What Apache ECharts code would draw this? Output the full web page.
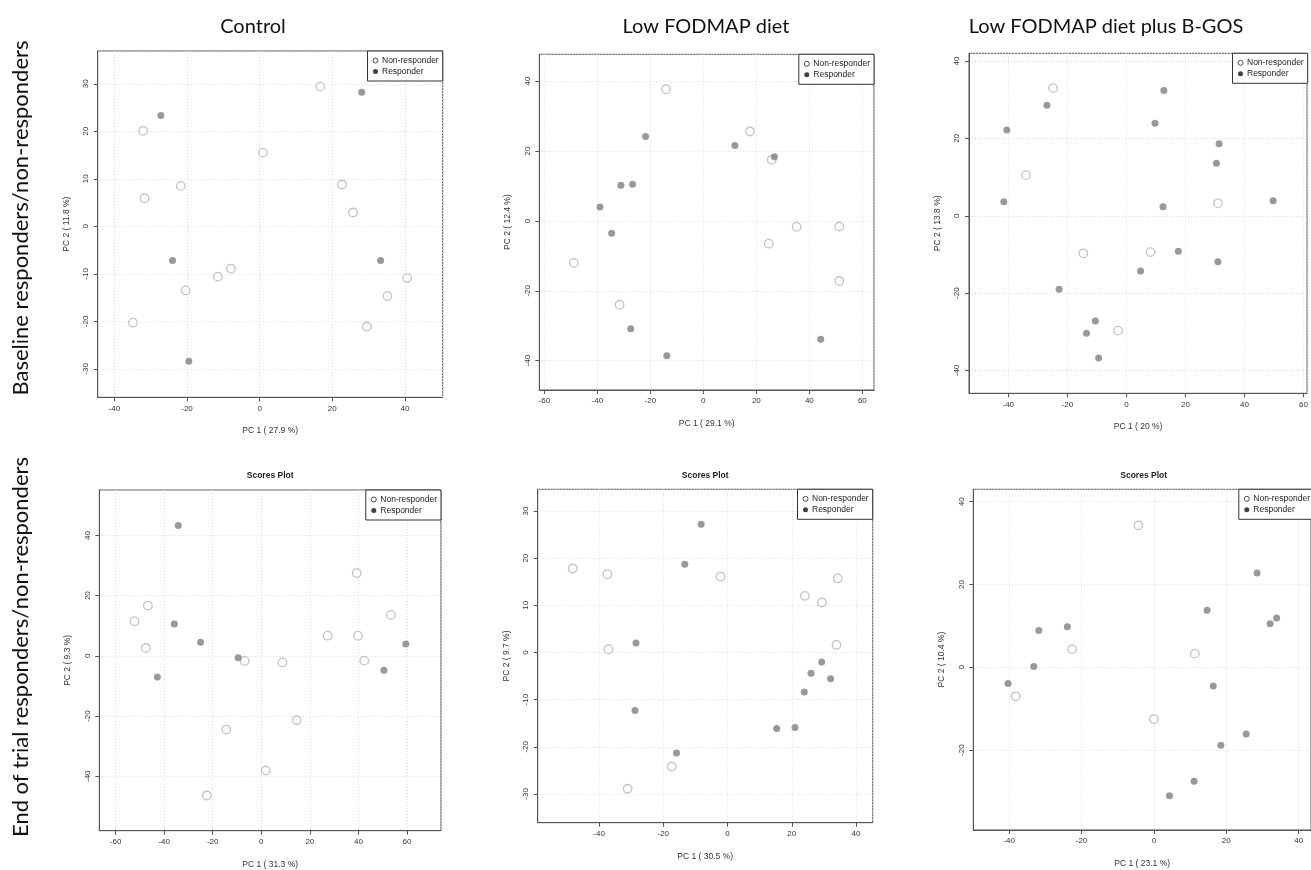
<!DOCTYPE html>
<html>
<head>
<meta charset="utf-8">
<script src="https://cdn.jsdelivr.net/npm/echarts@6/dist/echarts.min.js"></script>
<style>
html,body{margin:0;padding:0;background:#fff;}
#chart{width:1311px;height:870px;}
</style>
</head>
<body>
<div id="chart"></div>
<script>
// ---------------- DATA ----------------
const columnTitles = ['Control', 'Low FODMAP diet', 'Low FODMAP diet plus B-GOS'];
const rowTitles = ['Baseline responders/non-responders', 'End of trial responders/non-responders'];
const seriesNames = ['Non-responder', 'Responder'];
const subTitle = 'Scores Plot';

const xAxisNames = ['PC 1 ( 27.9 %)', 'PC 1 ( 29.1 %)', 'PC 1 ( 20 %)', 'PC 1 ( 31.3 %)', 'PC 1 ( 30.5 %)', 'PC 1 ( 23.1 %)'];
const yAxisNames = ['PC 2 ( 11.8 %)', 'PC 2 ( 12.4 %)', 'PC 2 ( 13.8 %)', 'PC 2 ( 9.3 %)', 'PC 2 ( 9.7 %)', 'PC 2 ( 10.4 %)'];

// axis extents [min, max] and tick steps
const xExtents = [[-44.6, 50.4], [-61.9, 64.4], [-53.3, 61.2], [-66.7, 74.0], [-59.1, 45.2], [-49.9, 43.4]];
const yExtents = [[-36.0, 36.9], [-48.4, 47.7], [-45.9, 42.0], [-58.1, 55.1], [-36.1, 34.6], [-39.3, 43.0]];
const xSteps = [20, 20, 20, 20, 20, 20];
const ySteps = [10, 20, 20, 20, 10, 20];

// Panel 1: Control, baseline
const p1NonResponder = [[16.7,29.4],[-32.1,20.1],[0.9,15.5],[-21.7,8.5],[-31.7,5.9],[22.7,8.8],[25.7,2.9],[-7.9,-8.9],[-11.5,-10.6],[-20.4,-13.5],[-34.9,-20.3],[40.6,-10.9],[35.2,-14.7],[29.5,-21.1]];
const p1Responder = [[-27.2,23.3],[28.1,28.2],[-24.0,-7.2],[33.3,-7.2],[-19.5,-28.4]];
// Panel 2: Low FODMAP, baseline
const p2NonResponder = [[-14.1,37.7],[17.6,25.6],[25.8,17.5],[35.2,-1.7],[51.3,-1.6],[24.7,-6.5],[51.3,-17.2],[-48.9,-12.0],[-31.6,-24.0]];
const p2Responder = [[-21.8,24.2],[11.9,21.6],[26.8,18.4],[-31.1,10.2],[-26.7,10.5],[-39.0,4.0],[-34.6,-3.5],[-27.4,-30.9],[-13.8,-38.6],[44.3,-33.9]];
// Panel 3: Low FODMAP + B-GOS, baseline
const p3NonResponder = [[-24.8,33.0],[-34.0,10.5],[31.0,3.2],[-14.6,-9.7],[8.2,-9.4],[-2.8,-29.7]];
const p3Responder = [[-26.9,28.6],[-40.5,22.2],[-41.5,3.6],[12.7,32.4],[9.7,23.9],[31.4,18.6],[30.5,13.6],[12.4,2.3],[49.7,3.9],[17.6,-9.2],[31.0,-11.9],[4.8,-14.3],[-22.8,-19.0],[-10.5,-27.2],[-13.5,-30.4],[-9.4,-36.8]];
// Panel 4: Control, end of trial
const p4NonResponder = [[-52.2,11.5],[-46.7,16.7],[-47.5,2.6],[-6.9,-1.7],[8.7,-2.2],[-14.4,-24.5],[14.6,-21.4],[1.8,-38.1],[-22.4,-46.4],[27.3,6.7],[39.3,27.5],[39.8,6.7],[42.4,-1.6],[53.4,13.6]];
const p4Responder = [[-34.2,43.3],[-35.8,10.6],[-25.0,4.5],[-42.8,-7.0],[-9.5,-0.6],[50.5,-4.8],[59.5,3.9]];
// Panel 5: Low FODMAP, end of trial
const p5NonResponder = [[-48.2,17.8],[-37.4,16.6],[-37.1,0.7],[-2.2,16.1],[24.1,12.0],[29.4,10.6],[34.3,15.7],[33.9,1.6],[-17.4,-24.2],[-31.1,-28.9]];
const p5Responder = [[-8.2,27.2],[-13.3,18.7],[-28.5,2.0],[-28.8,-12.3],[-15.9,-21.3],[29.3,-2.0],[26.0,-4.4],[32.1,-5.6],[23.9,-8.4],[15.3,-16.1],[21.0,-15.9]];
// Panel 6: Low FODMAP + B-GOS, end of trial
const p6NonResponder = [[-4.3,34.3],[-22.6,4.4],[-38.2,-7.0],[11.3,3.3],[0.0,-12.5]];
const p6Responder = [[-31.8,8.9],[-23.9,9.8],[-33.2,0.2],[-40.3,-3.9],[28.5,22.8],[14.7,13.8],[32.1,10.5],[33.9,11.9],[16.4,-4.5],[25.5,-16.1],[18.5,-18.8],[11.1,-27.5],[4.3,-31.0]];

const nonResponderSets = [p1NonResponder, p2NonResponder, p3NonResponder, p4NonResponder, p5NonResponder, p6NonResponder];
const responderSets = [p1Responder, p2Responder, p3Responder, p4Responder, p5Responder, p6Responder];

// ---------------- LAYOUT ----------------
const W = 1311;
const grids = [
  {left: 97.7, top: 51, width: 345, height: 346.3},
  {left: 539.3, top: 54.3, width: 334.7, height: 335.7},
  {left: 969, top: 53.3, width: 338.7, height: 340},
  {left: 99.3, top: 490, width: 341.7, height: 340.7},
  {left: 537.7, top: 489.3, width: 335, height: 333.4},
  {left: 973.3, top: 489.3, width: 340.7, height: 340.7}
];
const plotFont = 'Liberation Sans, Arial, sans-serif';
const nrStyle = {color: '#ffffff', borderColor: '#b4b4b4', borderWidth: 1.3};
const rStyle = {color: '#808080'};

const option = {
  animation: false,
  backgroundColor: '#ffffff',
  grid: [], xAxis: [], yAxis: [], series: [], legend: [], graphic: []
};

grids.forEach((g, i) => {
  option.grid.push({left: g.left, top: g.top, width: g.width, height: g.height,
    show: true, borderColor: '#555', borderWidth: 1, backgroundColor: 'transparent', containLabel: false});
  const common = {
    gridIndex: i, type: 'value', nameLocation: 'middle',
    nameTextStyle: {fontFamily: plotFont, fontSize: 8.5, color: '#333'},
    axisLine: {show: true, onZero: false, lineStyle: {color: '#555', width: 1}},
    axisTick: {show: true, length: 4, lineStyle: {color: '#555'}},
    axisLabel: {fontFamily: plotFont, fontSize: 8, color: '#333', showMinLabel: false, showMaxLabel: false},
    splitLine: {show: true, lineStyle: {color: '#dcdcdc', type: [1, 2], width: 1}}
  };
  option.xAxis.push(Object.assign({}, common, {
    min: xExtents[i][0], max: xExtents[i][1], minInterval: xSteps[i], maxInterval: xSteps[i],
    name: xAxisNames[i], nameGap: 29,
    axisLabel: Object.assign({}, common.axisLabel, {margin: 7})
  }));
  option.yAxis.push(Object.assign({}, common, {
    min: yExtents[i][0], max: yExtents[i][1], minInterval: ySteps[i], maxInterval: ySteps[i],
    name: yAxisNames[i], nameGap: 27,
    axisLabel: Object.assign({}, common.axisLabel, {rotate: 90, margin: 8})
  }));
  option.series.push({
    name: seriesNames[0], type: 'scatter', xAxisIndex: i, yAxisIndex: i,
    symbol: 'circle', symbolSize: 8.5, itemStyle: nrStyle, data: nonResponderSets[i], z: 3
  });
  option.series.push({
    name: seriesNames[1], type: 'scatter', xAxisIndex: i, yAxisIndex: i,
    symbol: 'circle', symbolSize: 7, itemStyle: rStyle, data: responderSets[i], z: 3
  });
  option.legend.push({
    orient: 'vertical', right: W - (g.left + g.width), top: g.top,
    padding: [5, 4, 5, 5], itemGap: 2, itemWidth: 5, itemHeight: 5,
    backgroundColor: '#ffffff', borderColor: '#333', borderWidth: 1,
    selectedMode: false,
    textStyle: {fontFamily: plotFont, fontSize: 8.5, color: '#222', padding: [0, 0, 0, -1]},
    data: [
      {name: seriesNames[0], icon: 'circle', itemStyle: {color: '#ffffff', borderColor: '#222', borderWidth: 1}},
      {name: seriesNames[1], icon: 'circle', itemStyle: {color: '#111', borderWidth: 0}}
    ]
  });
  if (i >= 3) {
    option.graphic.push({type: 'text', x: g.left + g.width / 2, y: g.top - 14,
      style: {text: subTitle, font: 'bold 8.5px ' + plotFont, fill: '#222', textAlign: 'center', textVerticalAlign: 'middle'}});
  }
});

// column titles
const colCenters = [253, 706, 1106];
columnTitles.forEach((t, i) => {
  option.graphic.push({type: 'text', x: colCenters[i], y: 27,
    style: {text: t, font: '20px Lato, "Open Sans", sans-serif', fill: '#111', textAlign: 'center', textVerticalAlign: 'middle'}});
});
// row titles
const rowCenters = [218, 647];
rowTitles.forEach((t, i) => {
  option.graphic.push({type: 'text', x: 21, y: rowCenters[i], rotation: Math.PI / 2,
    style: {text: t, font: '22px Lato, "Open Sans", sans-serif', fill: '#111', textAlign: 'center', textVerticalAlign: 'middle'}});
});

const chart = echarts.init(document.getElementById('chart'), null, {renderer: 'canvas', width: 1311, height: 870});
chart.setOption(option);
</script>
</body>
</html>
